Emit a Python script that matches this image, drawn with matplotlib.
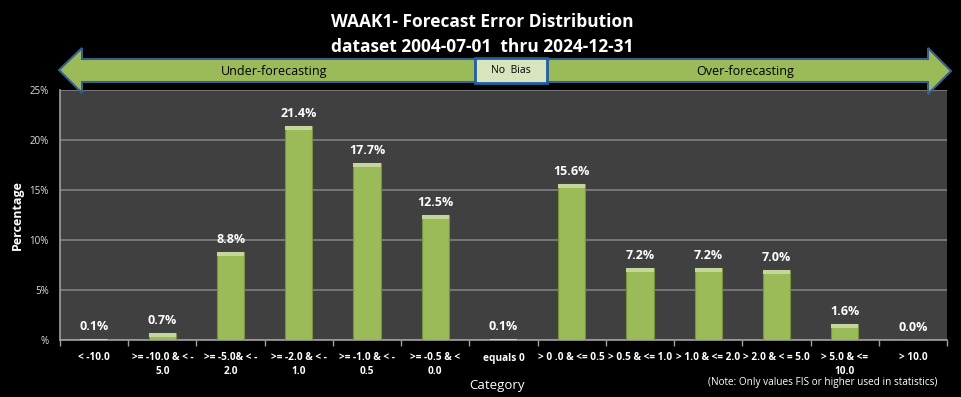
import matplotlib
matplotlib.use("Agg")
import matplotlib.pyplot as plt
from matplotlib.patches import Polygon, Rectangle
from matplotlib.ticker import FuncFormatter

categories = ["< -10.0", ">= -10.0 & < -\n5.0", ">= -5.0& < -\n2.0", ">= -2.0 & < -\n1.0",
              ">= -1.0 & < -\n0.5", ">= -0.5 & <\n0.0", "equals 0", "> 0 .0 & <= 0.5",
              "> 0.5 & <= 1.0", "> 1.0 & <= 2.0", "> 2.0 & < = 5.0", "> 5.0 & <=\n10.0", "> 10.0"]
values = [0.1, 0.7, 8.8, 21.4, 17.7, 12.5, 0.1, 15.6, 7.2, 7.2, 7.0, 1.6, 0.0]
yticks = [0, 5, 10, 15, 20, 25]

plt.rcParams['font.family'] = ['Open Sans', 'DejaVu Sans']

fig = plt.figure(figsize=(9.61, 3.97), dpi=100, facecolor='black')
ax = fig.add_axes([60/961, 57/397, 887/961, 250/397])
ax.set_facecolor('#404040')

x = list(range(len(categories)))
ax.bar(x, values, width=0.4, color='#9BBB59', edgecolor='#76923C', linewidth=0.8, zorder=3)
# top bevel highlight
ax.bar(x, [min(v, 0.35) for v in values], bottom=[max(v - 0.35, 0) for v in values],
       width=0.4, color='#C3D69B', edgecolor='none', zorder=4)

for xi, v in zip(x, values):
    ax.annotate(f"{v:.1f}%", (xi, v), xytext=(0, 4), textcoords='offset points',
                ha='center', va='bottom', color='white', fontsize=9, fontweight='bold')

ax.set_xlim(-0.5, len(categories) - 0.5)
ax.set_ylim(0, 25)
ax.set_yticks(yticks)
ax.yaxis.set_major_formatter(FuncFormatter(lambda v, p: "%" if v == 0 else f"{int(v)}%"))
ax.yaxis.grid(True, color='#808080', linewidth=1.2, zorder=0)
ax.set_axisbelow(True)
ax.set_xticks([i - 0.5 for i in range(len(categories) + 1)], minor=False)
ax.set_xticklabels([])
ax.set_xticks(x, minor=True)
ax.set_xticklabels(categories, minor=True, fontsize=7.3, fontweight='bold', color='white',
                   linespacing=1.35)
ax.tick_params(axis='x', which='minor', length=0, pad=9)
ax.tick_params(axis='x', which='major', length=4, color='#A0A0A0', width=1)
ax.tick_params(axis='y', length=0, labelsize=7, labelcolor='#E0E0E0', pad=8)
for s in ['top', 'right']:
    ax.spines[s].set_visible(False)
for s in ['left', 'bottom']:
    ax.spines[s].set_color('#A0A0A0')
    ax.spines[s].set_linewidth(1.2)

ax.set_ylabel("Percentage", color='white', fontsize=9, fontweight='bold', labelpad=4)
fig.text(497/961, 1 - 385/397, "Category", color='white', fontsize=9.5, ha='center', va='center')
fig.text(937/961, 1 - 383/397, "(Note: Only values FIS or higher used in statistics)",
         color='white', fontsize=7.2, ha='right', va='center')

fig.text(482/961, 1 - 22/397, "WAAK1- Forecast Error Distribution", color='white',
         fontsize=12.5, fontweight='bold', ha='center', va='center')
fig.text(482/961, 1 - 47/397, "dataset 2004-07-01  thru 2024-12-31", color='white',
         fontsize=12.5, fontweight='bold', ha='center', va='center')

# double arrow in pixel coordinates
H = 397
def P(px, py):
    return (px / 961, 1 - py / H)
arrow = Polygon([P(59, 70), P(82, 48), P(82, 59), P(928, 59), P(928, 48), P(951, 71),
                 P(928, 94), P(928, 82), P(82, 82), P(82, 93)], closed=True,
                transform=fig.transFigure, facecolor='#9BBB59', edgecolor='#3A5F8F',
                linewidth=1.5, zorder=5)
fig.add_artist(arrow)
box = Rectangle(P(475, 83), 72 / 961, 25 / H, transform=fig.transFigure,
                facecolor='#D7E4BD', edgecolor='#1F5F9F', linewidth=2, zorder=6)
fig.add_artist(box)
fig.text(511/961, 1 - 70.5/H, "No  Bias", color='black', fontsize=7.5, ha='center', va='center', zorder=7)
fig.text(274/961, 1 - 71/H, "Under-forecasting", color='black', fontsize=9, ha='center', va='center', zorder=7)
fig.text(745/961, 1 - 71/H, "Over-forecasting", color='black', fontsize=9, ha='center', va='center', zorder=7)

fig.savefig("out.png", dpi=100, facecolor='black')
